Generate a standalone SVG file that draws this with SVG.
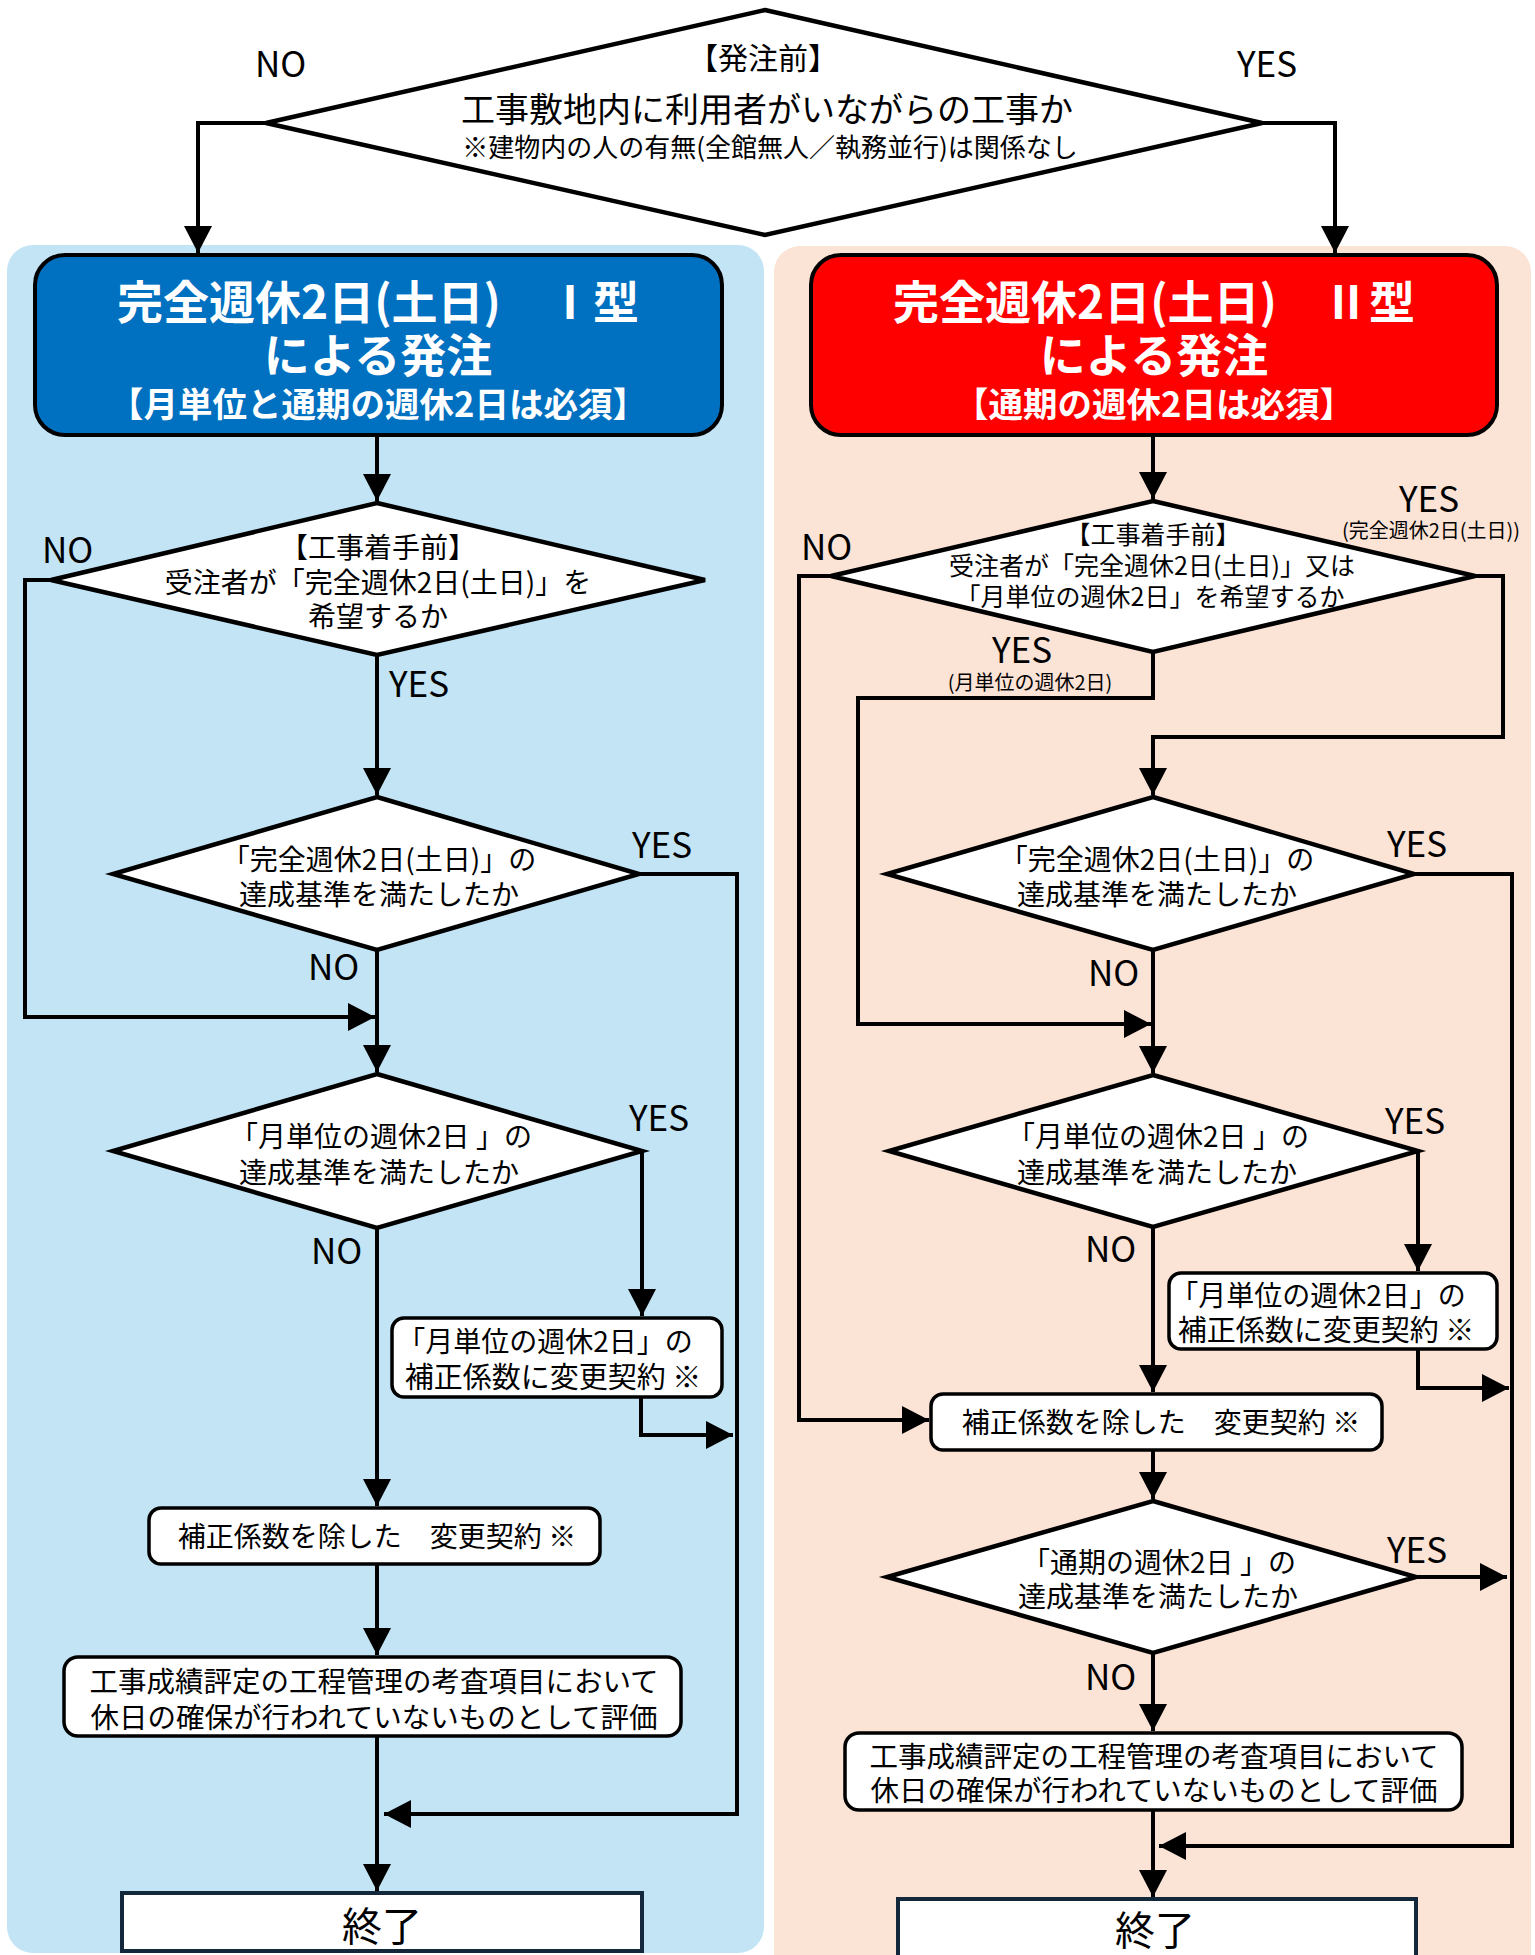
<svg xmlns="http://www.w3.org/2000/svg" width="1535" height="1955" viewBox="0 0 1535 1955">
<style>
text{font-family:"Noto Sans CJK JP","Noto Sans",sans-serif;fill:#000}
.c{text-anchor:middle}
.t28{font-size:28px}
.t29{font-size:29px}
.t25{font-size:25px}
.lab{font-size:35px}
.small{font-size:20px}
.hd{fill:#fff;font-weight:bold;text-anchor:middle}
.dia{fill:#fff;stroke:#000;stroke-width:4.5;stroke-linejoin:miter}
.box{fill:#fff;stroke:#000;stroke-width:3.5}
.end{fill:#fff;stroke:#13293b;stroke-width:4}
.con path{fill:none;stroke:#000;stroke-width:4;marker-end:url(#ah)}
</style>
<defs>
<marker id="ah" markerUnits="userSpaceOnUse" markerWidth="28" markerHeight="28" refX="27" refY="14" orient="auto">
<path d="M0,0 L27,14 L0,28 z" fill="#000"/>
</marker>
</defs>
<rect width="1535" height="1955" fill="#fff"/>
<g id="panel-left"><rect x="7" y="245" width="757" height="1708" rx="26" fill="#C2E4F5"/></g>
<g id="panel-right"><rect x="774" y="246" width="757" height="1740" rx="26" fill="#FBE3D6"/></g>

<g class="con" id="connectors">
<path d="M266,123 H198 V253"/>
<path d="M1262,123 H1335 V253"/>
<path d="M377,435 V501"/>
<path d="M51,580 H25 V1017 H375"/>
<path d="M377,655 V795"/>
<path d="M639,874 H737 V1814 H384"/>
<path d="M377,950 V1072"/>
<path d="M642,1151 V1316"/>
<path d="M641,1397 V1435 H733"/>
<path d="M377,1228 V1506"/>
<path d="M377,1564 V1655"/>
<path d="M377,1736 V1891"/>
<path d="M1153,435 V499"/>
<path d="M831,576 H799 V1420 H929"/>
<path d="M1475,576 H1503 V737 H1153 V795"/>
<path d="M1153,652 V698 H858 V1024 H1151"/>
<path d="M1414,874 H1512 V1846 H1159"/>
<path d="M1153,950 V1073"/>
<path d="M1418,1151 V1271"/>
<path d="M1418,1349 V1388 H1509"/>
<path d="M1153,1227 V1392"/>
<path d="M1153,1450 V1499"/>
<path d="M1416,1577 H1507"/>
<path d="M1153,1653 V1731"/>
<path d="M1153,1810 V1897"/>
</g>

<g id="labels">
<text class="lab" x="255" y="77">NO</text>
<text class="lab" x="1237" y="77">YES</text>
<text class="lab" x="42" y="563">NO</text>
<text class="lab" x="389" y="697">YES</text>
<text class="lab" x="632" y="858">YES</text>
<text class="lab" x="308" y="980">NO</text>
<text class="lab" x="629" y="1131">YES</text>
<text class="lab" x="311" y="1264">NO</text>
<text class="lab" x="801" y="560">NO</text>
<text class="lab" x="1399" y="512">YES</text>
<text class="small c" x="1431" y="538">(完全週休2日(土日))</text>
<text class="lab" x="992" y="663">YES</text>
<text class="small c" x="1030" y="690">(月単位の週休2日)</text>
<text class="lab" x="1387" y="857">YES</text>
<text class="lab" x="1088" y="986">NO</text>
<text class="lab" x="1385" y="1134">YES</text>
<text class="lab" x="1085" y="1262">NO</text>
<text class="lab" x="1387" y="1563">YES</text>
<text class="lab" x="1085" y="1690">NO</text>
</g>

<g id="start">
<polygon class="dia" points="765,10 1262,123 765,235 266,123"/>
<text class="c" x="763" y="69" font-size="30">【発注前】</text>
<text class="c" x="767" y="122" font-size="34">工事敷地内に利用者がいながらの工事か</text>
<text class="c" x="770" y="157" font-size="26">※建物内の人の有無(全館無人／執務並行)は関係なし</text>
</g>

<g id="type1">
<rect x="35" y="255" width="687" height="180" rx="30" fill="#0070C0" stroke="#000" stroke-width="4"/>
<text class="hd" x="378" y="319" font-size="46">完全週休2日(土日)　Ⅰ型</text>
<text class="hd" x="378" y="372" font-size="46">による発注</text>
<text class="hd" x="378" y="417" font-size="34.5">【月単位と通期の週休2日は必須】</text>
</g>

<g id="l-d1">
<polygon class="dia" points="377,503 705,580 377,655 51,580"/>
<text class="c t28" x="378" y="558">【工事着手前】</text>
<text class="c t28" x="378" y="593">受注者が「完全週休2日(土日)」を</text>
<text class="c t28" x="378" y="627">希望するか</text>
</g>

<g id="l-d2">
<polygon class="dia" points="377,797 639,874 377,950 113,874"/>
<text class="c t28" x="379" y="870">「完全週休2日(土日)」の</text>
<text class="c t28" x="379" y="905">達成基準を満たしたか</text>
</g>

<g id="l-d3">
<polygon class="dia" points="377,1074 642,1151 377,1228 113,1151"/>
<text class="c t28" x="381" y="1147">「月単位の週休2日 」の</text>
<text class="c t28" x="379" y="1183">達成基準を満たしたか</text>
</g>

<g id="l-b1">
<rect class="box" x="392" y="1318" width="330" height="79" rx="12"/>
<text class="c t28" x="545" y="1352">「月単位の週休2日」の</text>
<text class="c t29" x="553" y="1388">補正係数に変更契約 ※</text>
</g>

<g id="l-b2">
<rect class="box" x="149" y="1508" width="451" height="56" rx="12"/>
<text class="c t28" x="377" y="1547">補正係数を除した　変更契約 ※</text>
</g>

<g id="l-b3">
<rect class="box" x="64" y="1657" width="617" height="79" rx="14"/>
<text class="c" x="374" y="1692" font-size="28.5">工事成績評定の工程管理の考査項目において</text>
<text class="c" x="374" y="1728" font-size="28.5">休日の確保が行われていないものとして評価</text>
</g>

<g id="l-end">
<rect class="end" x="122" y="1893" width="520" height="58"/>
<text class="c" x="382" y="1941" font-size="40">終了</text>
</g>

<g id="type2">
<rect x="811" y="255" width="686" height="180" rx="30" fill="#FF0000" stroke="#000" stroke-width="4"/>
<text class="hd" x="1154" y="319" font-size="46">完全週休2日(土日)　Ⅱ型</text>
<text class="hd" x="1154" y="372" font-size="46">による発注</text>
<text class="hd" x="1154" y="417" font-size="34.5">【通期の週休2日は必須】</text>
</g>

<g id="r-d1">
<polygon class="dia" points="1153,501 1475,576 1153,652 831,576"/>
<text class="c t25" x="1153" y="544">【工事着手前】</text>
<text class="c t25" x="1152" y="575">受注者が「完全週休2日(土日)」又は</text>
<text class="c t25" x="1150" y="606">「月単位の週休2日」を希望するか</text>
</g>

<g id="r-d2">
<polygon class="dia" points="1153,797 1414,874 1153,950 887,874"/>
<text class="c t28" x="1157" y="870">「完全週休2日(土日)」の</text>
<text class="c t28" x="1157" y="905">達成基準を満たしたか</text>
</g>

<g id="r-d3">
<polygon class="dia" points="1153,1075 1418,1151 1153,1227 889,1151"/>
<text class="c t28" x="1158" y="1147">「月単位の週休2日 」の</text>
<text class="c t28" x="1157" y="1183">達成基準を満たしたか</text>
</g>

<g id="r-b1">
<rect class="box" x="1169" y="1273" width="328" height="76" rx="12"/>
<text class="c t28" x="1318" y="1306">「月単位の週休2日」の</text>
<text class="c t29" x="1326" y="1341">補正係数に変更契約 ※</text>
</g>

<g id="r-b2">
<rect class="box" x="931" y="1394" width="451" height="56" rx="12"/>
<text class="c t28" x="1161" y="1433">補正係数を除した　変更契約 ※</text>
</g>

<g id="r-d4">
<polygon class="dia" points="1153,1501 1416,1577 1153,1653 887,1577"/>
<text class="c t28" x="1159" y="1573">「通期の週休2日 」の</text>
<text class="c t28" x="1158" y="1607">達成基準を満たしたか</text>
</g>

<g id="r-b3">
<rect class="box" x="845" y="1733" width="617" height="77" rx="14"/>
<text class="c" x="1154" y="1767" font-size="28.5">工事成績評定の工程管理の考査項目において</text>
<text class="c" x="1154" y="1801" font-size="28.5">休日の確保が行われていないものとして評価</text>
</g>

<g id="r-end">
<rect class="end" x="898" y="1899" width="518" height="62"/>
<text class="c" x="1155" y="1945" font-size="40">終了</text>
</g>
</svg>
